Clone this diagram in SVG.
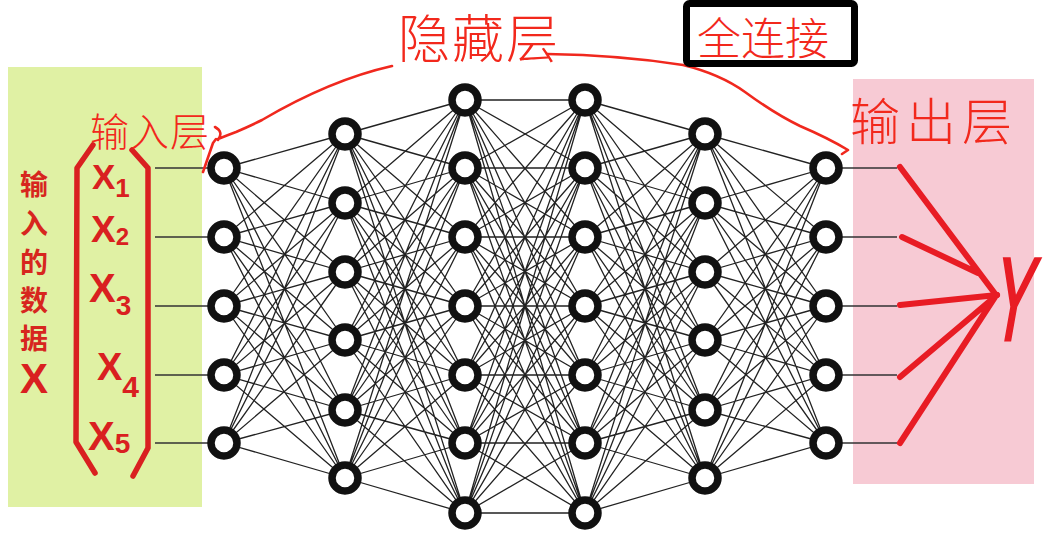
<svg xmlns="http://www.w3.org/2000/svg" width="1048" height="540" viewBox="0 0 1048 540">
<style>
.e{stroke:#222;stroke-width:1.3;fill:none}
.io{stroke:#333;stroke-width:1.5}
.n{fill:#fff;stroke:#111;stroke-width:7.5}
.hw{fill:#f2281c;font-family:"Noto Sans CJK SC","Noto Sans",sans-serif;font-weight:300}
.red{stroke:#f0281e;stroke-width:2.6;fill:none;stroke-linecap:round;stroke-linejoin:round}
.thick{stroke:#d92020;stroke-width:5.5;fill:none;stroke-linecap:round;stroke-linejoin:round}
.arr{stroke:#e81c24;stroke-width:6;fill:none;stroke-linecap:round}
.xl{fill:#d92020;font-family:"Liberation Sans",Arial,sans-serif;font-weight:bold}
.vt{fill:#d7261e;font-family:"Noto Sans CJK SC","Noto Sans",sans-serif;font-weight:bold;font-size:28px}
</style>
<rect id="input-panel" x="8" y="67" width="194" height="440" fill="#e0f1a4"/>
<rect id="output-panel" x="853" y="79" width="181" height="405" fill="#f7cad4"/>

<g id="connectors">
<path class="e" d="M224 168L345 134M224 168L345 203M224 168L345 272M224 168L345 340M224 168L345 410M224 168L345 478M224 237L345 134M224 237L345 203M224 237L345 272M224 237L345 340M224 237L345 410M224 237L345 478M224 306L345 134M224 306L345 203M224 306L345 272M224 306L345 340M224 306L345 410M224 306L345 478M224 375L345 134M224 375L345 203M224 375L345 272M224 375L345 340M224 375L345 410M224 375L345 478M224 443L345 134M224 443L345 203M224 443L345 272M224 443L345 340M224 443L345 410M224 443L345 478"/>
<path class="e" d="M345 134L465 100M345 134L465 168M345 134L465 237M345 134L465 306M345 134L465 375M345 134L465 443M345 134L465 513M345 203L465 100M345 203L465 168M345 203L465 237M345 203L465 306M345 203L465 375M345 203L465 443M345 203L465 513M345 272L465 100M345 272L465 168M345 272L465 237M345 272L465 306M345 272L465 375M345 272L465 443M345 272L465 513M345 340L465 100M345 340L465 168M345 340L465 237M345 340L465 306M345 340L465 375M345 340L465 443M345 340L465 513M345 410L465 100M345 410L465 168M345 410L465 237M345 410L465 306M345 410L465 375M345 410L465 443M345 410L465 513M345 478L465 100M345 478L465 168M345 478L465 237M345 478L465 306M345 478L465 375M345 478L465 443M345 478L465 513"/>
<path class="e" d="M465 100L585 100M465 100L585 168M465 100L585 237M465 100L585 306M465 100L585 375M465 100L585 443M465 100L585 513M465 168L585 100M465 168L585 168M465 168L585 237M465 168L585 306M465 168L585 375M465 168L585 443M465 168L585 513M465 237L585 100M465 237L585 168M465 237L585 237M465 237L585 306M465 237L585 375M465 237L585 443M465 237L585 513M465 306L585 100M465 306L585 168M465 306L585 237M465 306L585 306M465 306L585 375M465 306L585 443M465 306L585 513M465 375L585 100M465 375L585 168M465 375L585 237M465 375L585 306M465 375L585 375M465 375L585 443M465 375L585 513M465 443L585 100M465 443L585 168M465 443L585 237M465 443L585 306M465 443L585 375M465 443L585 443M465 443L585 513M465 513L585 100M465 513L585 168M465 513L585 237M465 513L585 306M465 513L585 375M465 513L585 443M465 513L585 513"/>
<path class="e" d="M585 100L705 134M585 100L705 203M585 100L705 272M585 100L705 340M585 100L705 410M585 100L705 478M585 168L705 134M585 168L705 203M585 168L705 272M585 168L705 340M585 168L705 410M585 168L705 478M585 237L705 134M585 237L705 203M585 237L705 272M585 237L705 340M585 237L705 410M585 237L705 478M585 306L705 134M585 306L705 203M585 306L705 272M585 306L705 340M585 306L705 410M585 306L705 478M585 375L705 134M585 375L705 203M585 375L705 272M585 375L705 340M585 375L705 410M585 375L705 478M585 443L705 134M585 443L705 203M585 443L705 272M585 443L705 340M585 443L705 410M585 443L705 478M585 513L705 134M585 513L705 203M585 513L705 272M585 513L705 340M585 513L705 410M585 513L705 478"/>
<path class="e" d="M705 134L826 168M705 134L826 237M705 134L826 306M705 134L826 375M705 134L826 443M705 203L826 168M705 203L826 237M705 203L826 306M705 203L826 375M705 203L826 443M705 272L826 168M705 272L826 237M705 272L826 306M705 272L826 375M705 272L826 443M705 340L826 168M705 340L826 237M705 340L826 306M705 340L826 375M705 340L826 443M705 410L826 168M705 410L826 237M705 410L826 306M705 410L826 375M705 410L826 443M705 478L826 168M705 478L826 237M705 478L826 306M705 478L826 375M705 478L826 443"/>
<path class="io" d="M155 168H224M155 237H224M155 306H224M155 375H224M155 443H224M826 168H897M826 237H897M826 306H897M826 375H897M826 443H897"/>
</g>

<g id="layer-input">
<circle class="n" cx="224" cy="168" r="13"/><circle class="n" cx="224" cy="237" r="13"/><circle class="n" cx="224" cy="306" r="13"/><circle class="n" cx="224" cy="375" r="13"/><circle class="n" cx="224" cy="443" r="13"/>
</g>
<g id="layer-hidden-1">
<circle class="n" cx="345" cy="134" r="13"/><circle class="n" cx="345" cy="203" r="13"/><circle class="n" cx="345" cy="272" r="13"/><circle class="n" cx="345" cy="340" r="13"/><circle class="n" cx="345" cy="410" r="13"/><circle class="n" cx="345" cy="478" r="13"/>
</g>
<g id="layer-hidden-2">
<circle class="n" cx="465" cy="100" r="13"/><circle class="n" cx="465" cy="168" r="13"/><circle class="n" cx="465" cy="237" r="13"/><circle class="n" cx="465" cy="306" r="13"/><circle class="n" cx="465" cy="375" r="13"/><circle class="n" cx="465" cy="443" r="13"/><circle class="n" cx="465" cy="513" r="13"/>
</g>
<g id="layer-hidden-3">
<circle class="n" cx="585" cy="100" r="13"/><circle class="n" cx="585" cy="168" r="13"/><circle class="n" cx="585" cy="237" r="13"/><circle class="n" cx="585" cy="306" r="13"/><circle class="n" cx="585" cy="375" r="13"/><circle class="n" cx="585" cy="443" r="13"/><circle class="n" cx="585" cy="513" r="13"/>
</g>
<g id="layer-hidden-4">
<circle class="n" cx="705" cy="134" r="13"/><circle class="n" cx="705" cy="203" r="13"/><circle class="n" cx="705" cy="272" r="13"/><circle class="n" cx="705" cy="340" r="13"/><circle class="n" cx="705" cy="410" r="13"/><circle class="n" cx="705" cy="478" r="13"/>
</g>
<g id="layer-output">
<circle class="n" cx="826" cy="168" r="13"/><circle class="n" cx="826" cy="237" r="13"/><circle class="n" cx="826" cy="306" r="13"/><circle class="n" cx="826" cy="375" r="13"/><circle class="n" cx="826" cy="443" r="13"/>
</g>

<g id="input-label">
<text class="vt" text-anchor="middle"><tspan x="34" y="195">输</tspan><tspan x="34" y="234">入</tspan><tspan x="34" y="273">的</tspan><tspan x="34" y="311">数</tspan><tspan x="34" y="349">据</tspan></text>
<text class="xl" x="34" y="393" font-size="42" text-anchor="middle">X</text>
</g>

<g id="input-vector">
<path class="thick" d="M93 145L77 168L76 442L95 473M132 150L148 168L148 448L133 476"/>
<text class="xl" x="92" y="189" font-size="35">X<tspan font-size="26" dy="8">1</tspan></text>
<text class="xl" x="91" y="242" font-size="37">X<tspan font-size="24" dy="3">2</tspan></text>
<text class="xl" x="89" y="302" font-size="40">X<tspan font-size="28" dy="13">3</tspan></text>
<text class="xl" x="97" y="380" font-size="38">X<tspan font-size="30" dy="17">4</tspan></text>
<text class="xl" x="88" y="450" font-size="40">X<tspan font-size="28" dy="3">5</tspan></text>
</g>

<g id="hidden-brace">
<path class="red" d="M203 172L213 143L216 139M215 127Q224 132 218 140M218 139Q228 135 236 132Q250 126 262 120Q330 80 392 66M547 54Q620 55 683 65Q720 74 745 92Q775 114 800 126Q828 138 848 150L842 154"/>
<text class="hw" x="398" y="58" font-size="52" letter-spacing="2">隐藏层</text>
</g>

<g id="input-layer-label">
<text class="hw" x="90" y="146" font-size="39" letter-spacing="1">输入层</text>
</g>

<g id="full-connection-label">
<rect x="686.5" y="3.5" width="168" height="60" rx="3" fill="#fff" stroke="#000" stroke-width="7"/>
<text class="hw" x="697" y="55" font-size="44">全连接</text>
</g>

<g id="output-layer-label">
<text class="hw" x="850" y="140" font-size="50" letter-spacing="6">输出层</text>
</g>

<g id="output-arrows">
<path class="arr" d="M900 167L996 295M902 237L978 273M900 377L997 295M900 443L995 297"/>
<path class="arr" stroke-width="7.5" d="M900 305L997 295"/>
<text transform="translate(1008 340) skewX(-10) scale(0.5 1)" x="0" y="0" text-anchor="middle" font-family="Liberation Sans, Arial, sans-serif" font-size="118" fill="#e81c24" stroke="#e81c24" stroke-width="3">Y</text>
</g>
</svg>
